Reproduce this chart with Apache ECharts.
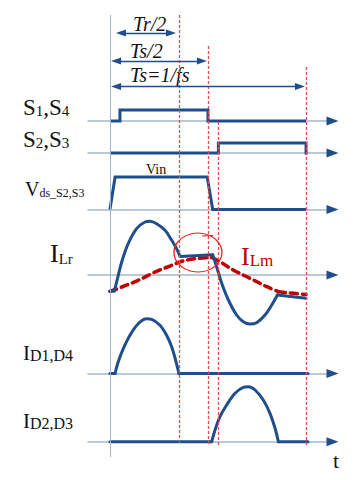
<!DOCTYPE html>
<html>
<head>
<meta charset="utf-8">
<script src="https://cdn.jsdelivr.net/npm/echarts@6/dist/echarts.min.js"></script>
<style>html,body{margin:0;background:#fff}#c{width:354px;height:480px}</style>
</head>
<body>
<div id="c"></div>
<script>
(() => {
  "use strict";
  // time is in units of Ts
  const XMIN = -0.112, XMAX = 1.135;
  const tr2 = 0.352, ts2 = 0.5, tDead = 0.553, ts = 1;

  // gate signals / Vds (normalised to 1)
  const s14 = [[0, 0], [0.051, 0], [0.051, 1], [0.5, 1], [0.5, 0], [1, 0]];
  const s23 = [[0, 0], [0.553, 0], [0.553, 1], [1, 1], [1, 0], [1.008, 0]];
  const vds = [[0, 0], [0.026, 1], [0.496, 1], [0.524, 0], [1, 0]];

  // resonant / magnetizing current (arbitrary units)
  const iLr = [[0, -1.6], [0.022, -1.6], [0.034, -0.7], [0.06, 1.3], [0.093, 3.13], [0.136, 4.63], [0.179, 5.3],
    [0.204, 5.37], [0.238, 5.13], [0.281, 4.47], [0.315, 3.47], [0.34, 2.63], [0.358, 1.85], [0.524, 2.02],
    [0.544, 0.83], [0.57, -0.83], [0.604, -2.5], [0.646, -4.0], [0.68, -4.67], [0.714, -4.9], [0.748, -4.77],
    [0.791, -4.0], [0.825, -3.0], [0.854, -2.0], [1, -2.33]];
  const iLrBreaks = [1, 12, 13, 23];
  const iLm = [[0, -1.65], [0.06, -1.2], [0.144, -0.53], [0.23, 0.3], [0.315, 0.97], [0.366, 1.37], [0.434, 1.63],
    [0.52, 1.75], [0.561, 1.33], [0.629, 0.5], [0.714, -0.33], [0.8, -1.17], [0.859, -1.67], [0.918, -1.8], [1, -1.95]];
  const iLmBreaks = [7, 12];

  // rectifier diode currents
  const iD14 = [[0, 0], [0.026, 0], [0.042, 1.15], [0.068, 2.48], [0.102, 3.82], [0.144, 4.98], [0.187, 5.48],
    [0.213, 5.42], [0.255, 4.82], [0.289, 3.82], [0.315, 2.65], [0.335, 1.32], [0.352, 0], [1.01, 0]];
  const iD14Breaks = [1, 12];
  const iD23 = [[0, 0], [0.519, 0], [0.536, 1.17], [0.561, 2.5], [0.595, 3.67], [0.638, 4.84], [0.68, 5.44],
    [0.706, 5.5], [0.74, 5.17], [0.782, 4.17], [0.816, 2.84], [0.842, 1.34], [0.859, 0], [1.01, 0]];
  const iD23Breaks = [1, 12];

  const BLUE = "#1f4e8c", AXIS = "#a3b6cf", RED = "#c00000", MARK = "#ea4b4b", INK = "#111";
  const SERIF = '"Liberation Serif", "Times New Roman", serif';

  const grids = [
    { top: 0, height: 480 },     // annotation layer, y in px
    { top: 110, height: 11 },    // S1,S4
    { top: 143, height: 10 },    // S2,S3
    { top: 177, height: 32.5 },  // Vds
    { top: 215, height: 120 },   // ILr, ILm
    { top: 313.5, height: 60 },  // ID1,D4
    { top: 381.7, height: 60 },  // ID2,D3
  ].map(g => ({ left: 88, right: 21.5, ...g }));
  const yRange = [[0, 480], [0, 1], [0, 1], [0, 1], [-6, 6], [0, 6], [0, 6]];

  const pieces = (d, br) => {
    const out = []; let s = 0;
    [...br, d.length - 1].forEach(e => { out.push(d.slice(s, e + 1)); s = e; });
    return out;
  };
  const arrowHead = { coord: [XMAX, 0], symbol: "triangle", symbolRotate: -90, symbolSize: [9, 12], itemStyle: { color: BLUE } };
  const line = (data, gi, o = {}) => ({
    type: "line", xAxisIndex: gi, yAxisIndex: gi, data, symbol: "none", clip: false, silent: true, animation: false,
    smooth: o.smooth ? 0.35 : false,
    lineStyle: { color: o.color || BLUE, width: o.width || 3, type: o.type || "solid", cap: o.smooth ? "round" : "butt", join: o.smooth ? "round" : "miter" },
    markPoint: o.mp ? { silent: true, animation: false, label: { show: false }, data: o.mp } : undefined,
  });
  const wave = (d, br, gi, o = {}) => pieces(d, br).map((p, i) => line(p, gi, { smooth: true, ...o, mp: i === 0 ? o.mp : null }));

  const dashStyle = { color: MARK, width: 1.3, type: [3, 2] };
  const dash = (t, y0) => [{ coord: [t, y0], lineStyle: dashStyle, itemStyle: { color: MARK } }, { coord: [t, 445] }];
  const span = (a, b, y) => [{ coord: [a, y], symbol: "triangle", lineStyle: { color: BLUE, width: 1.3, type: "solid" }, itemStyle: { color: BLUE } }, { coord: [b, y], symbol: "triangle" }];

  const series = [
    {
      type: "line", xAxisIndex: 0, yAxisIndex: 0, data: [], silent: true, color: MARK,
      markLine: {
        silent: true, animation: false, symbol: ["none", "none"], symbolSize: [7, 10], label: { show: false },
        lineStyle: dashStyle,
        data: [
          [{ coord: [0, 15], lineStyle: { color: AXIS, width: 1, type: "solid" } }, { coord: [0, 457] }],
          dash(tr2, 15), dash(ts2, 46), dash(tDead, 122), dash(ts, 67),
          span(0.056, 0.311, 33), span(0.031, 0.469, 61), span(0.031, 0.969, 86.5),
          [{ coord: [0.469, 236], lineStyle: { color: "#f02020", width: 1, type: "solid" } }, { coord: [0.526, 235.5] }],
        ],
      },
    },
    line(s14, 1, { mp: [arrowHead] }),
    line(s23, 2, { mp: [arrowHead] }),
    line(vds, 3, { mp: [arrowHead] }),
    ...wave(iLm, iLmBreaks, 4, { color: RED, width: 3.5, type: [7, 5] }),
    ...wave(iLr, iLrBreaks, 4, {
      mp: [arrowHead, { coord: [0.449, 2.25], symbol: "circle", symbolSize: [48, 39], itemStyle: { color: "rgba(0,0,0,0)", borderColor: "#f02020", borderWidth: 1.2 } }],
    }),
    ...wave(iD14, iD14Breaks, 5, { mp: [arrowHead] }),
    ...wave(iD23, iD23Breaks, 6, { mp: [arrowHead] }),
  ];

  const lab = (x, base, text, F1, F2, drop, fill = INK) => ({
    type: "text", x, y: base + 0.16 * F1, silent: true,
    style: {
      text, fill, align: "left", verticalAlign: "bottom",
      rich: {
        m: { fontFamily: SERIF, fontSize: F1, lineHeight: F1, verticalAlign: "bottom", fill },
        s: { fontFamily: SERIF, fontSize: F2, lineHeight: Math.max(1, 2 * (0.16 * F1 + 0.34 * F2 - drop)), verticalAlign: "bottom", fill },
      },
    },
  });
  const ital = (x, base, text) => ({
    type: "text", x, y: base + 0.16 * 20, silent: true,
    style: { text, fill: INK, font: `italic 20px ${SERIF}`, verticalAlign: "bottom", align: "left" },
  });

  const graphic = [
    ital(133, 31, "Tr/2"), ital(130, 58, "Ts/2"), ital(130, 82, "Ts=1/fs"),
    lab(23, 115, "{m|S}{s|1}{m|,S}{s|4}", 23, 15, 2.5),
    lab(23, 147, "{m|S}{s|2}{m|,S}{s|3}", 23, 15, 2.5),
    lab(25, 196, "{m|V}{s|ds_S2,S3}", 20, 12, 5),
    lab(146, 174, "{m|Vin}", 14, 10, 0),
    lab(50, 262, "{m|I}{s|Lr}", 26, 15, 2),
    lab(241, 265, "{m|I}{s|Lm}", 26, 17, 3, "#c00000"),
    lab(23, 360, "{m|I}{s|D1,D4}", 21, 16, 3),
    lab(23, 428, "{m|I}{s|D2,D3}", 21, 16, 3),
    lab(333, 468, "{m|t}", 22, 10, 0),
  ];

  const chart = echarts.init(document.getElementById("c"), null, { renderer: "svg" });
  chart.setOption({
    animation: false,
    grid: grids,
    xAxis: grids.map((g, i) => ({
      gridIndex: i, type: "value", min: XMIN, max: XMAX, show: i > 0,
      axisLine: { onZero: true, lineStyle: { color: AXIS, width: 1.5 } },
      axisTick: { show: false }, axisLabel: { show: false }, splitLine: { show: false },
    })),
    yAxis: yRange.map(([a, b], i) => ({ gridIndex: i, type: "value", min: a, max: b, inverse: i === 0, show: false, splitLine: { show: false } })),
    series,
    graphic,
  });
})();
</script>
</body>
</html>
